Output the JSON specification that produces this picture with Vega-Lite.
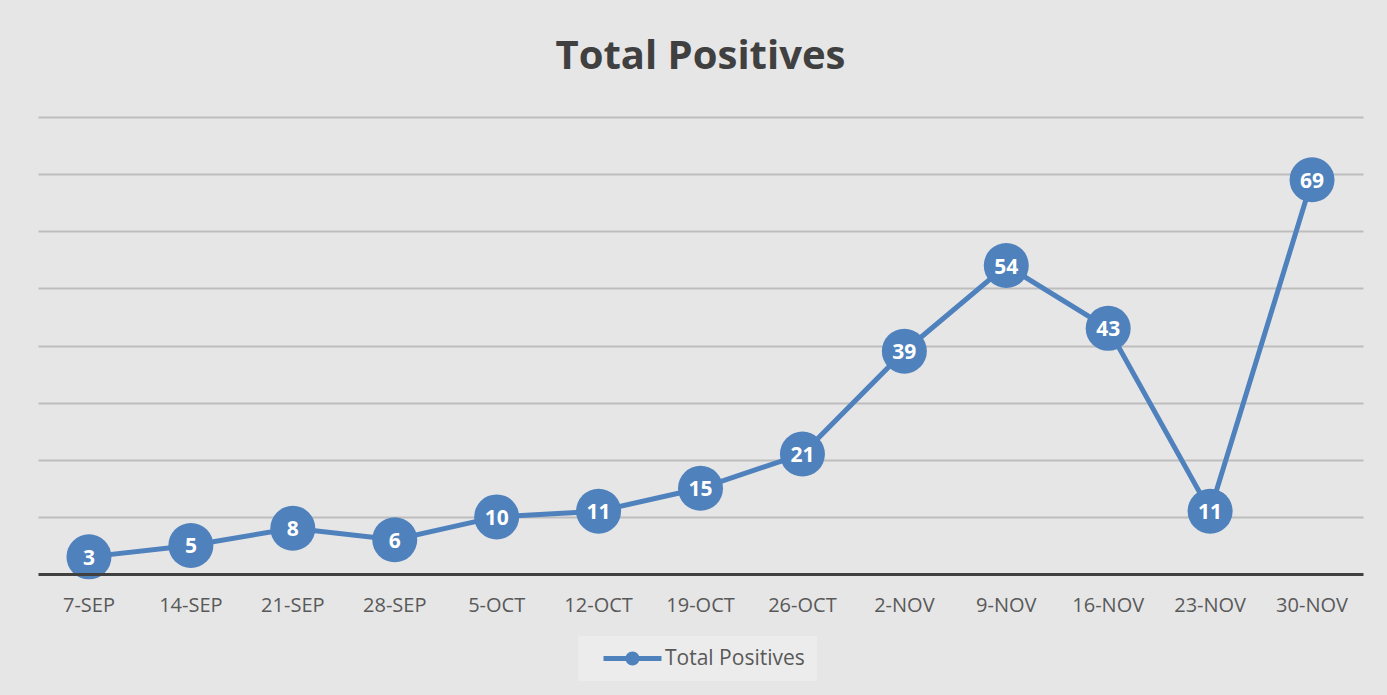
{
  "$schema": "https://vega.github.io/schema/vega-lite/v6.json",
  "width": 1325,
  "height": 457,
  "autosize": {"type": "none"},
  "padding": {"left": 38, "top": 117, "right": 24, "bottom": 121},
  "background": "#e6e6e6",
  "config": {
    "font": "Open Sans",
    "view": {"stroke": null},
    "legend": {
      "orient": "none",
      "legendX": 540,
      "legendY": 519,
      "direction": "horizontal",
      "title": null,
      "labelFontSize": 21,
      "labelColor": "#595959",
      "labelFont": "Open Sans",
      "fillColor": "#ececec",
      "padding": 12,
      "symbolType": "M0.3,-0.25 L6.1,-0.25 L6.1,0.25 L0.3,0.25 Z M2.5,0 A0.7,0.7 0 1,1 3.9,0 A0.7,0.7 0 1,1 2.5,0 Z",
      "symbolSize": 400,
      "symbolStrokeWidth": 0,
      "symbolFillColor": "#4f81bd",
      "symbolOffset": 0,
      "labelOffset": 54
    }
  },
  "title": {
    "text": "Total Positives",
    "fontSize": 40,
    "fontWeight": "bold",
    "color": "#404040",
    "font": "Open Sans",
    "anchor": "middle",
    "offset": 40
  },
  "data": {
    "values": [
      {"week": "7-SEP", "positives": 3},
      {"week": "14-SEP", "positives": 5},
      {"week": "21-SEP", "positives": 8},
      {"week": "28-SEP", "positives": 6},
      {"week": "5-OCT", "positives": 10},
      {"week": "12-OCT", "positives": 11},
      {"week": "19-OCT", "positives": 15},
      {"week": "26-OCT", "positives": 21},
      {"week": "2-NOV", "positives": 39},
      {"week": "9-NOV", "positives": 54},
      {"week": "16-NOV", "positives": 43},
      {"week": "23-NOV", "positives": 11},
      {"week": "30-NOV", "positives": 69}
    ]
  },
  "encoding": {
    "x": {
      "field": "week",
      "type": "ordinal",
      "sort": null,
      "scale": {"type": "band", "paddingInner": 0, "paddingOuter": 0},
      "axis": {
        "title": null,
        "labelAngle": 0,
        "labelFontSize": 20,
        "labelColor": "#595959",
        "labelFont": "Open Sans",
        "labelPadding": 21,
        "ticks": false,
        "domainColor": "#404040",
        "domainWidth": 3,
        "grid": false,
        "zindex": 1
      }
    },
    "y": {
      "field": "positives",
      "type": "quantitative",
      "scale": {"domain": [0, 80], "nice": false},
      "axis": {
        "title": null,
        "labels": false,
        "ticks": false,
        "domain": false,
        "values": [10, 20, 30, 40, 50, 60, 70, 80],
        "gridColor": "#bdbdbd",
        "gridWidth": 2
      }
    }
  },
  "layer": [
    {
      "mark": {"type": "line", "strokeWidth": 5},
      "encoding": {
        "color": {
          "datum": "Total Positives",
          "scale": {"range": ["#4f81bd"]}
        }
      }
    },
    {
      "mark": {"type": "point", "filled": true, "opacity": 1, "size": 2025, "color": "#4f81bd", "shape": "circle"}
    },
    {
      "mark": {"type": "text", "color": "white", "fontSize": 21, "fontWeight": "bold", "font": "Open Sans", "baseline": "middle", "dy": 2},
      "encoding": {"text": {"field": "positives", "type": "quantitative"}}
    }
  ]
}
